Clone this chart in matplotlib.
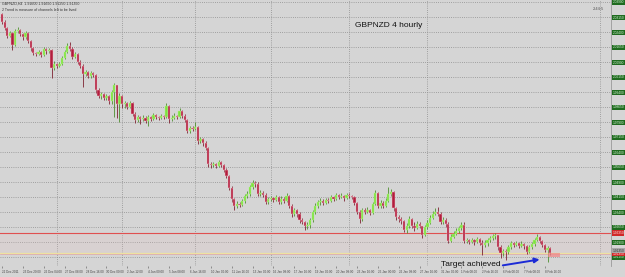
import numpy as np
import matplotlib.pyplot as plt
from matplotlib.patches import Rectangle

# GBPNZD H4 candles, 22 Dec 2011 .. 8 Feb 2012
first_open = 2.0330
close = [2.0290, 2.0260, 2.0220, 2.0235, 2.0175, 2.0245, 2.0250, 2.0230, 2.0215, 2.0235,
         2.0195, 2.0160, 2.0135, 2.0130, 2.0140, 2.0125, 2.0155, 2.0145, 2.0150, 2.0060,
         2.0080, 2.0070, 2.0080, 2.0110, 2.0140, 2.0170, 2.0155, 2.0115, 2.0130, 2.0090,
         2.0070, 2.0030, 2.0040, 2.0020, 2.0035, 2.0025, 1.9950, 1.9920, 1.9930, 1.9910,
         1.9920, 1.9895, 1.9940, 1.9975, 1.9880, 1.9920, 1.9880, 1.9885, 1.9865, 1.9885,
         1.9830, 1.9800, 1.9815, 1.9805, 1.9810, 1.9795, 1.9815, 1.9805, 1.9825, 1.9815,
         1.9810, 1.9820, 1.9815, 1.9870, 1.9805, 1.9810, 1.9820, 1.9815, 1.9845, 1.9820,
         1.9800, 1.9745, 1.9760, 1.9755, 1.9765, 1.9695, 1.9705, 1.9685, 1.9660, 1.9580,
         1.9575, 1.9580, 1.9570, 1.9590, 1.9575, 1.9550, 1.9520, 1.9460, 1.9405, 1.9370,
         1.9380, 1.9375, 1.9395, 1.9420, 1.9430, 1.9465, 1.9485, 1.9480, 1.9430, 1.9435,
         1.9425, 1.9390, 1.9405, 1.9410, 1.9400, 1.9415, 1.9390, 1.9405, 1.9395, 1.9420,
         1.9370, 1.9330, 1.9350, 1.9330, 1.9300, 1.9290, 1.9270, 1.9275, 1.9300, 1.9340,
         1.9370, 1.9390, 1.9395, 1.9385, 1.9400, 1.9395, 1.9415, 1.9405, 1.9425, 1.9415,
         1.9420, 1.9410, 1.9425, 1.9420, 1.9415, 1.9385, 1.9340, 1.9305, 1.9350, 1.9340,
         1.9350, 1.9335, 1.9380, 1.9435, 1.9370, 1.9385, 1.9370, 1.9395, 1.9430, 1.9440,
         1.9360, 1.9315, 1.9305, 1.9295, 1.9250, 1.9270, 1.9305, 1.9270, 1.9260, 1.9280,
         1.9270, 1.9225, 1.9265, 1.9285, 1.9310, 1.9330, 1.9340, 1.9330, 1.9290, 1.9300,
         1.9280, 1.9195, 1.9215, 1.9230, 1.9245, 1.9260, 1.9275, 1.9195, 1.9200, 1.9190,
         1.9200, 1.9190, 1.9205, 1.9185, 1.9175, 1.9185, 1.9200, 1.9210, 1.9220, 1.9225,
         1.9165, 1.9135, 1.9145, 1.9140, 1.9165, 1.9185, 1.9175, 1.9185, 1.9170, 1.9180,
         1.9170, 1.9140, 1.9165, 1.9180, 1.9200, 1.9215, 1.9195, 1.9175, 1.9150, 1.9160,
         1.9135]
high = [2.0335, 2.0300, 2.0265, 2.0245, 2.0240, 2.0255, 2.0265, 2.0255, 2.0235, 2.0245,
        2.0240, 2.0200, 2.0165, 2.0140, 2.0150, 2.0145, 2.0165, 2.0160, 2.0160, 2.0155,
        2.0095, 2.0085, 2.0090, 2.0120, 2.0150, 2.0185, 2.0190, 2.0165, 2.0140, 2.0135,
        2.0100, 2.0080, 2.0050, 2.0045, 2.0045, 2.0040, 2.0030, 1.9960, 1.9940, 1.9935,
        1.9930, 1.9925, 1.9950, 1.9985, 1.9970, 1.9935, 1.9925, 1.9895, 1.9890, 1.9895,
        1.9890, 1.9840, 1.9825, 1.9820, 1.9825, 1.9820, 1.9825, 1.9820, 1.9835, 1.9830,
        1.9820, 1.9830, 1.9825, 1.9885, 1.9875, 1.9825, 1.9835, 1.9825, 1.9860, 1.9850,
        1.9830, 1.9805, 1.9770, 1.9770, 1.9790, 1.9770, 1.9715, 1.9710, 1.9695, 1.9665,
        1.9590, 1.9590, 1.9585, 1.9600, 1.9595, 1.9580, 1.9560, 1.9525, 1.9470, 1.9410,
        1.9395, 1.9390, 1.9405, 1.9430, 1.9445, 1.9475, 1.9500, 1.9495, 1.9490, 1.9450,
        1.9445, 1.9435, 1.9415, 1.9420, 1.9415, 1.9425, 1.9420, 1.9420, 1.9415, 1.9435,
        1.9425, 1.9380, 1.9360, 1.9355, 1.9340, 1.9310, 1.9295, 1.9290, 1.9310, 1.9350,
        1.9385, 1.9400, 1.9410, 1.9405, 1.9410, 1.9410, 1.9425, 1.9420, 1.9435, 1.9430,
        1.9435, 1.9425, 1.9435, 1.9435, 1.9425, 1.9420, 1.9390, 1.9350, 1.9360, 1.9360,
        1.9365, 1.9355, 1.9390, 1.9450, 1.9440, 1.9400, 1.9395, 1.9410, 1.9465, 1.9455,
        1.9445, 1.9365, 1.9325, 1.9315, 1.9300, 1.9285, 1.9320, 1.9310, 1.9290, 1.9295,
        1.9290, 1.9270, 1.9275, 1.9300, 1.9325, 1.9345, 1.9360, 1.9365, 1.9340, 1.9315,
        1.9310, 1.9290, 1.9230, 1.9245, 1.9260, 1.9270, 1.9290, 1.9290, 1.9210, 1.9205,
        1.9210, 1.9205, 1.9215, 1.9210, 1.9200, 1.9200, 1.9210, 1.9220, 1.9230, 1.9235,
        1.9220, 1.9175, 1.9155, 1.9155, 1.9175, 1.9195, 1.9190, 1.9195, 1.9190, 1.9195,
        1.9185, 1.9175, 1.9175, 1.9190, 1.9210, 1.9230, 1.9220, 1.9200, 1.9180, 1.9170,
        1.9165]
low = [2.0280, 2.0250, 2.0210, 2.0215, 2.0150, 2.0170, 2.0235, 2.0220, 2.0200, 2.0205,
       2.0185, 2.0145, 2.0125, 2.0120, 2.0125, 2.0115, 2.0120, 2.0130, 2.0135, 2.0010,
       2.0050, 2.0060, 2.0065, 2.0075, 2.0105, 2.0135, 2.0145, 2.0105, 2.0110, 2.0080,
       2.0060, 1.9965, 2.0020, 2.0010, 2.0010, 2.0015, 1.9935, 1.9910, 1.9905, 1.9900,
       1.9900, 1.9880, 1.9880, 1.9815, 1.9810, 1.9790, 1.9860, 1.9860, 1.9855, 1.9860,
       1.9820, 1.9785, 1.9790, 1.9780, 1.9795, 1.9785, 1.9770, 1.9795, 1.9800, 1.9805,
       1.9800, 1.9805, 1.9805, 1.9810, 1.9785, 1.9795, 1.9805, 1.9805, 1.9810, 1.9810,
       1.9790, 1.9735, 1.9735, 1.9745, 1.9750, 1.9680, 1.9685, 1.9670, 1.9650, 1.9565,
       1.9560, 1.9565, 1.9560, 1.9565, 1.9565, 1.9540, 1.9510, 1.9450, 1.9390, 1.9350,
       1.9360, 1.9365, 1.9370, 1.9385, 1.9410, 1.9420, 1.9455, 1.9465, 1.9420, 1.9420,
       1.9415, 1.9380, 1.9380, 1.9395, 1.9390, 1.9395, 1.9380, 1.9380, 1.9385, 1.9390,
       1.9360, 1.9315, 1.9320, 1.9315, 1.9285, 1.9280, 1.9250, 1.9255, 1.9260, 1.9290,
       1.9330, 1.9360, 1.9375, 1.9375, 1.9380, 1.9385, 1.9390, 1.9395, 1.9400, 1.9405,
       1.9410, 1.9395, 1.9405, 1.9410, 1.9405, 1.9375, 1.9330, 1.9285, 1.9295, 1.9330,
       1.9335, 1.9325, 1.9330, 1.9375, 1.9360, 1.9360, 1.9360, 1.9365, 1.9390, 1.9420,
       1.9345, 1.9300, 1.9290, 1.9280, 1.9240, 1.9235, 1.9260, 1.9260, 1.9245, 1.9255,
       1.9260, 1.9210, 1.9220, 1.9255, 1.9280, 1.9305, 1.9325, 1.9320, 1.9280, 1.9280,
       1.9265, 1.9185, 1.9190, 1.9210, 1.9225, 1.9235, 1.9250, 1.9185, 1.9185, 1.9180,
       1.9185, 1.9175, 1.9185, 1.9175, 1.9125, 1.9165, 1.9170, 1.9190, 1.9200, 1.9205,
       1.9150, 1.9110, 1.9120, 1.9100, 1.9130, 1.9155, 1.9165, 1.9170, 1.9160, 1.9165,
       1.9155, 1.9130, 1.9135, 1.9155, 1.9170, 1.9195, 1.9185, 1.9165, 1.9140, 1.9090,
       1.9125]

# bottom time labels, one every 8 candles
time_labels = ['22 Dec 2011', '23 Dec 20:00', '26 Dec 04:00', '27 Dec 08:00', '28 Dec 16:00',
               '30 Dec 00:00', '2 Jan 12:00', '4 Jan 00:00', '5 Jan 08:00', '6 Jan 16:00',
               '10 Jan 00:00', '11 Jan 16:00', '13 Jan 00:00', '16 Jan 08:00', '17 Jan 16:00',
               '19 Jan 00:00', '20 Jan 08:00', '23 Jan 16:00', '25 Jan 00:00', '26 Jan 08:00',
               '27 Jan 16:00', '31 Jan 00:00', '1 Feb 08:00', '2 Feb 16:00', '6 Feb 00:00',
               '7 Feb 08:00', '8 Feb 16:00']
grid_prices = [2.0390, 2.0315, 2.0240, 2.0165, 2.0090, 2.0015, 1.9940, 1.9865, 1.9790,
               1.9715, 1.9640, 1.9565, 1.9490, 1.9415, 1.9340, 1.9265, 1.9190, 1.9115]
week_lines = [21, 46, 74, 103, 133, 163, 229]
resistance = 1.9235
target = 1.9135

bg = '#d5d5d5'
close = np.array(close)
high = np.array(high)
low = np.array(low)
opens = np.r_[first_open, close[:-1]]
n = len(close)
x = np.arange(n)
up = close >= opens

fig = plt.figure(figsize=(6.25, 2.77), dpi=100, facecolor=bg)
ax = fig.add_axes([0, 11 / 277, 611 / 625, 266 / 277])
ax.set_facecolor(bg)
ax.set_xlim(-0.77, 233.3)
ax.set_ylim(1.9070, 2.0400)

# grid
for p in grid_prices:
    ax.axhline(p, color='#8e8e8e', lw=0.6, ls=(0, (1, 1.6)), zorder=0)
for w in week_lines:
    ax.axvline(w, color='#8e8e8e', lw=0.6, ls=(0, (1, 1.6)), zorder=0)

# levels
ax.axhspan(target, resistance, color='#e8c4c4', alpha=0.18, lw=0, zorder=0)
ax.axhline(resistance, color='#e05050', lw=0.8, zorder=1)
ax.axhline(target, color='#eee2a0', lw=0.9, zorder=1)
ax.axhline(target - 0.0005, color='#e49a9a', lw=0.4, zorder=1)

# candles
ax.vlines(x, low, high, colors=np.where(up, '#4f8f2f', '#7d2231'), lw=0.6, zorder=2)
body_lo = np.minimum(opens, close)
body_h = np.maximum(np.abs(close - opens), 0.0003)
ax.bar(x[up], body_h[up], bottom=body_lo[up], width=0.85, color='#7ee23e',
       edgecolor='#b8f590', lw=0.3, zorder=3)
ax.bar(x[~up], body_h[~up], bottom=body_lo[~up], width=0.85, color='#b21d3d',
       edgecolor='#f3c8d0', lw=0.3, zorder=3)

# target zone + arrow
ax.add_patch(Rectangle((209.2, 1.9115), 4.6, 0.0020, color='#f08a8a', alpha=0.75, lw=0, zorder=4))
ax.annotate('', xy=(207.0, 1.9105), xytext=(190.8, 1.9071),
            arrowprops=dict(arrowstyle='-|>', color='#1c2bd6', lw=1.4, mutation_scale=7),
            annotation_clip=False, zorder=5)
ax.text(168.2, 1.9076, 'Target achieved', fontsize=6, family='Liberation Sans',
        va='center', ha='left', color='#111111')
ax.text(135.2, 2.0275, 'GBPNZD 4 hourly', fontsize=6, family='Liberation Sans',
        va='center', ha='left', color='#111111')

# info lines top-left
o, h, l, c = opens[-1], high[-1], low[-1], close[-1]
fig.text(2 / 625, 1 - 4 / 277, f'GBPNZD,H4  {o:.5f} {h:.5f} {l:.5f} {c:.5f}', fontsize=2.6,
         family='Liberation Sans', va='center', color='#333333')
fig.text(2 / 625, 1 - 10 / 277, '2 Trend is measure of channels left to be lived', fontsize=2.6,
         family='Liberation Sans', va='center', color='#333333')
fig.text(593 / 625, 1 - 9 / 277, '2:44:5', fontsize=3, family='Liberation Sans',
         va='center', color='#555555')

# axes
for s in ['top', 'left', 'bottom']:
    ax.spines[s].set_visible(False)
ax.spines['right'].set_color('#9a9a9a')
ax.spines['right'].set_linewidth(0.6)

ax.set_xticks(np.arange(0, 8 * len(time_labels), 8))
ax.set_xticklabels(time_labels)
ax.tick_params(axis='x', labelsize=2.2, pad=1.5, length=1.5, width=0.4, color='#555555',
               labelcolor='#444444')
for t in ax.get_xticklabels():
    t.set_ha('left')
    t.set_family('Liberation Sans')

ax.yaxis.tick_right()
ax.set_yticks(grid_prices)
ax.set_yticklabels([f'{p:.5f}' for p in grid_prices])
ax.tick_params(axis='y', labelsize=2.3, pad=1.2, length=0, labelcolor='#d6f2d6')
for t in ax.get_yticklabels():
    t.set_bbox(dict(facecolor='#1f6b1f', edgecolor='none', pad=0.4))
    t.set_family('Liberation Sans')

trans = ax.get_yaxis_transform()
lab = dict(transform=trans, fontsize=2.3, va='center', family='Liberation Sans')
ax.text(1.002, resistance, f'{resistance:.5f}', color='#ffe0e0',
        bbox=dict(facecolor='#d02828', edgecolor='none', pad=0.4), **lab)
ax.text(1.002, target - 0.0004, f'{target:.5f}', color='#ffe0e0',
        bbox=dict(facecolor='#d02828', edgecolor='none', pad=0.4), **lab)
ax.text(1.002, target + 0.0011, f'{c:.5f}', color='#333333',
        bbox=dict(facecolor='#a8a8a8', edgecolor='none', pad=0.4), **lab)

fig.savefig('out.png', dpi=100, facecolor=bg)
